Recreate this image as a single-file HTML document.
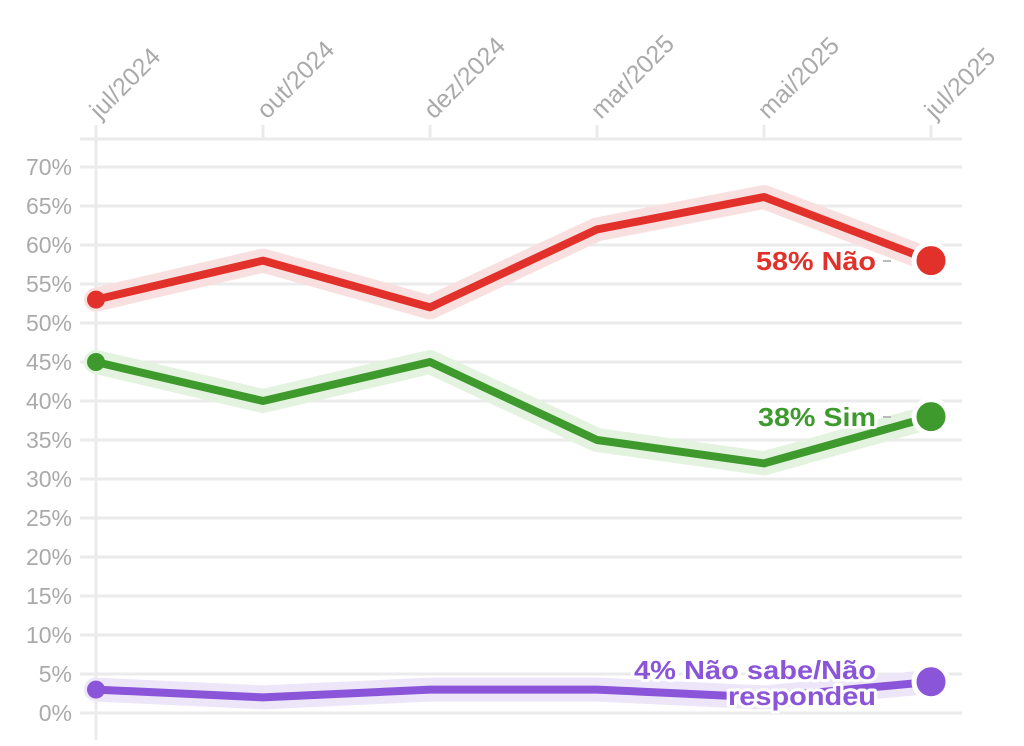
<!DOCTYPE html>
<html><head><meta charset="utf-8"><style>
body{margin:0;background:#fff}
svg{display:block;font-family:"Liberation Sans",sans-serif}
</style></head><body>
<svg width="1024" height="746" viewBox="0 0 1024 746">
<g stroke="#ebebeb" stroke-width="3">
<line x1="80" y1="139" x2="962" y2="139"/>
<line x1="80" y1="167" x2="962" y2="167"/>
<line x1="80" y1="206" x2="962" y2="206"/>
<line x1="80" y1="245" x2="962" y2="245"/>
<line x1="80" y1="284" x2="962" y2="284"/>
<line x1="80" y1="323" x2="962" y2="323"/>
<line x1="80" y1="362" x2="962" y2="362"/>
<line x1="80" y1="401" x2="962" y2="401"/>
<line x1="80" y1="440" x2="962" y2="440"/>
<line x1="80" y1="479" x2="962" y2="479"/>
<line x1="80" y1="518" x2="962" y2="518"/>
<line x1="80" y1="557" x2="962" y2="557"/>
<line x1="80" y1="596" x2="962" y2="596"/>
<line x1="80" y1="635" x2="962" y2="635"/>
<line x1="80" y1="674" x2="962" y2="674"/>
<line x1="80" y1="713" x2="962" y2="713"/>
<line x1="96" y1="125" x2="96" y2="740"/>
<line x1="263" y1="125" x2="263" y2="139"/>
<line x1="430" y1="125" x2="430" y2="139"/>
<line x1="597" y1="125" x2="597" y2="139"/>
<line x1="764" y1="125" x2="764" y2="139"/>
<line x1="931" y1="125" x2="931" y2="139"/>
</g>
<g fill="#aaa" font-size="23" text-anchor="end">
<text x="72" y="175">70%</text><text x="72" y="214">65%</text><text x="72" y="253">60%</text>
<text x="72" y="292">55%</text><text x="72" y="331">50%</text><text x="72" y="370">45%</text>
<text x="72" y="409">40%</text><text x="72" y="448">35%</text><text x="72" y="487">30%</text>
<text x="72" y="526">25%</text><text x="72" y="565">20%</text><text x="72" y="604">15%</text>
<text x="72" y="643">10%</text><text x="72" y="682">5%</text><text x="72" y="721">0%</text>
</g>
<g fill="#aaa" font-size="25">
<text transform="translate(100,120) rotate(-45)">jul/2024</text>
<text transform="translate(267,120) rotate(-45)">out/2024</text>
<text transform="translate(434,120) rotate(-45)">dez/2024</text>
<text transform="translate(601,120) rotate(-45)">mar/2025</text>
<text transform="translate(768,120) rotate(-45)">mai/2025</text>
<text transform="translate(935,120) rotate(-45)">jul/2025</text>
</g>
<g fill="none" stroke-linejoin="round" stroke-linecap="round">
<polyline points="96,299.6 263,260.6 430,307.4 597,229.4 764,197 931,260.6" stroke="#f9e0e0" stroke-width="24"/>
<polyline points="96,362 263,401 430,362 597,440 764,463.4 931,416.6" stroke="#e3f3df" stroke-width="24"/>
<polyline points="96,689.6 263,697.4 430,689.6 597,689.6 764,697.4 931,681.8" stroke="#ece6f8" stroke-width="24"/>
<polyline points="96,299.6 263,260.6 430,307.4 597,229.4 764,197 931,260.6" stroke="#e2312a" stroke-width="8"/>
<polyline points="96,362 263,401 430,362 597,440 764,463.4 931,416.6" stroke="#3f9a2e" stroke-width="8"/>
<polyline points="96,689.6 263,697.4 430,689.6 597,689.6 764,697.4 931,681.8" stroke="#8a55d8" stroke-width="8"/>
</g>
<circle cx="96" cy="299.6" r="9" fill="#e2312a"/>
<circle cx="96" cy="362" r="9" fill="#3f9a2e"/>
<circle cx="96" cy="689.6" r="9" fill="#8a55d8"/>
<g font-size="26" font-weight="bold" text-anchor="end" stroke="#fff" stroke-width="6" paint-order="stroke" stroke-linejoin="round">
<text x="876" y="270" fill="#e2312a" textLength="120" lengthAdjust="spacingAndGlyphs">58% Não</text>
<text x="876" y="426" fill="#3f9a2e" textLength="118" lengthAdjust="spacingAndGlyphs">38% Sim</text>
<text x="876" y="679" fill="#8a55d8" textLength="242" lengthAdjust="spacingAndGlyphs">4% Não sabe/Não</text>
<text x="876" y="705" fill="#8a55d8" textLength="148" lengthAdjust="spacingAndGlyphs">respondeu</text>
</g>
<g stroke="#bbb" stroke-width="2"><line x1="883" y1="261" x2="891" y2="261"/><line x1="883" y1="417" x2="891" y2="417"/></g>
<g stroke="#fff" stroke-width="5">
<circle cx="931" cy="260.6" r="17" fill="#e2312a"/>
<circle cx="931" cy="416.6" r="17" fill="#3f9a2e"/>
<circle cx="931" cy="681.8" r="17" fill="#8a55d8"/>
</g>
</svg>
</body></html>
